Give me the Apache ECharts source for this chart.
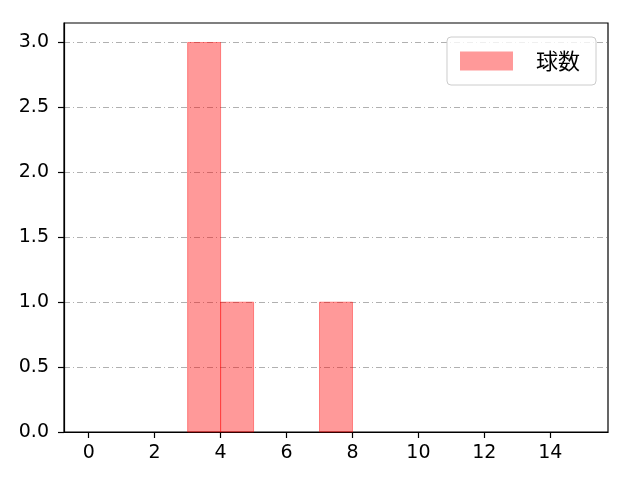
<!DOCTYPE html>
<html>
<head>
<meta charset="utf-8">
<script src="https://cdn.jsdelivr.net/npm/echarts@6/dist/echarts.min.js"></script>
<style>html,body{margin:0;padding:0;background:#fff}#c{width:640px;height:480px}</style>
</head>
<body>
<div id="c"></div>
<script>
var binStarts = [3, 4, 7];
var binEnds = [4, 5, 8];
var counts = [3, 1, 1];
var seriesName = '球数';
var xTicks = [0, 2, 4, 6, 8, 10, 12, 14];
var yTicks = [0, 0.5, 1.0, 1.5, 2.0, 2.5, 3.0];

var data = binStarts.map(function (s, i) { return [s, binEnds[i], counts[i]]; });
var font = '"Noto Sans CJK JP", "DejaVu Sans", sans-serif';
var numFont = '"DejaVu Sans", sans-serif';
var chart = echarts.init(document.getElementById('c'));
chart.setOption({
  animation: false,
  backgroundColor: '#fff',
  grid: { left: 64, right: 32, top: 23, bottom: 48, show: true, borderColor: '#000', borderWidth: 1.2 },
  legend: {
    show: true,
    right: 44, top: 37,
    data: [seriesName],
    icon: 'rect',
    itemWidth: 53, itemHeight: 19,
    padding: [13, 16, 13, 13],
    borderColor: '#ccc', borderWidth: 1, borderRadius: 4,
    backgroundColor: 'rgba(255,255,255,0.8)',
    textStyle: { fontFamily: font, fontSize: 22, color: '#000', padding: [0, 0, 0, 18] }
  },
  xAxis: {
    type: 'value', min: -0.75, max: 15.75,
    axisLine: { show: true, onZero: false, lineStyle: { color: '#000', width: 1.2 } },
    axisTick: { show: true, customValues: xTicks, length: 6, lineStyle: { color: '#000', width: 1.2 } },
    axisLabel: { customValues: xTicks, fontFamily: numFont, fontSize: 19, color: '#000', margin: 12 },
    splitLine: { show: false }
  },
  yAxis: {
    type: 'value', min: 0, max: 3.15, interval: 0.5,
    axisLine: { show: true, onZero: false, lineStyle: { color: '#000', width: 1.2 } },
    axisTick: { show: true, customValues: yTicks, length: 6, lineStyle: { color: '#000', width: 1.2 } },
    axisLabel: { customValues: yTicks, fontFamily: numFont, fontSize: 19, color: '#000', margin: 15,
      padding: [6, 0, 0, 0],
      formatter: function (v) { return v.toFixed(1); } },
    splitLine: { show: true, lineStyle: { color: '#b0b0b0', width: 1, type: [6, 3, 1, 3] } }
  },
  series: [{
    type: 'custom',
    name: seriesName,
    itemStyle: { color: 'rgba(255,0,0,0.4)' },
    encode: { x: [0, 1], y: 2 },
    renderItem: function (params, api) {
      var p0 = api.coord([api.value(0), api.value(2)]);
      var p1 = api.coord([api.value(1), 0]);
      return {
        type: 'rect',
        shape: { x: p0[0], y: p0[1], width: p1[0] - p0[0], height: p1[1] - p0[1] },
        style: { fill: 'rgba(255,0,0,0.4)', stroke: 'rgba(255,0,0,0.4)', lineWidth: 1 }
      };
    },
    data: data
  }]
});
</script>
</body>
</html>
